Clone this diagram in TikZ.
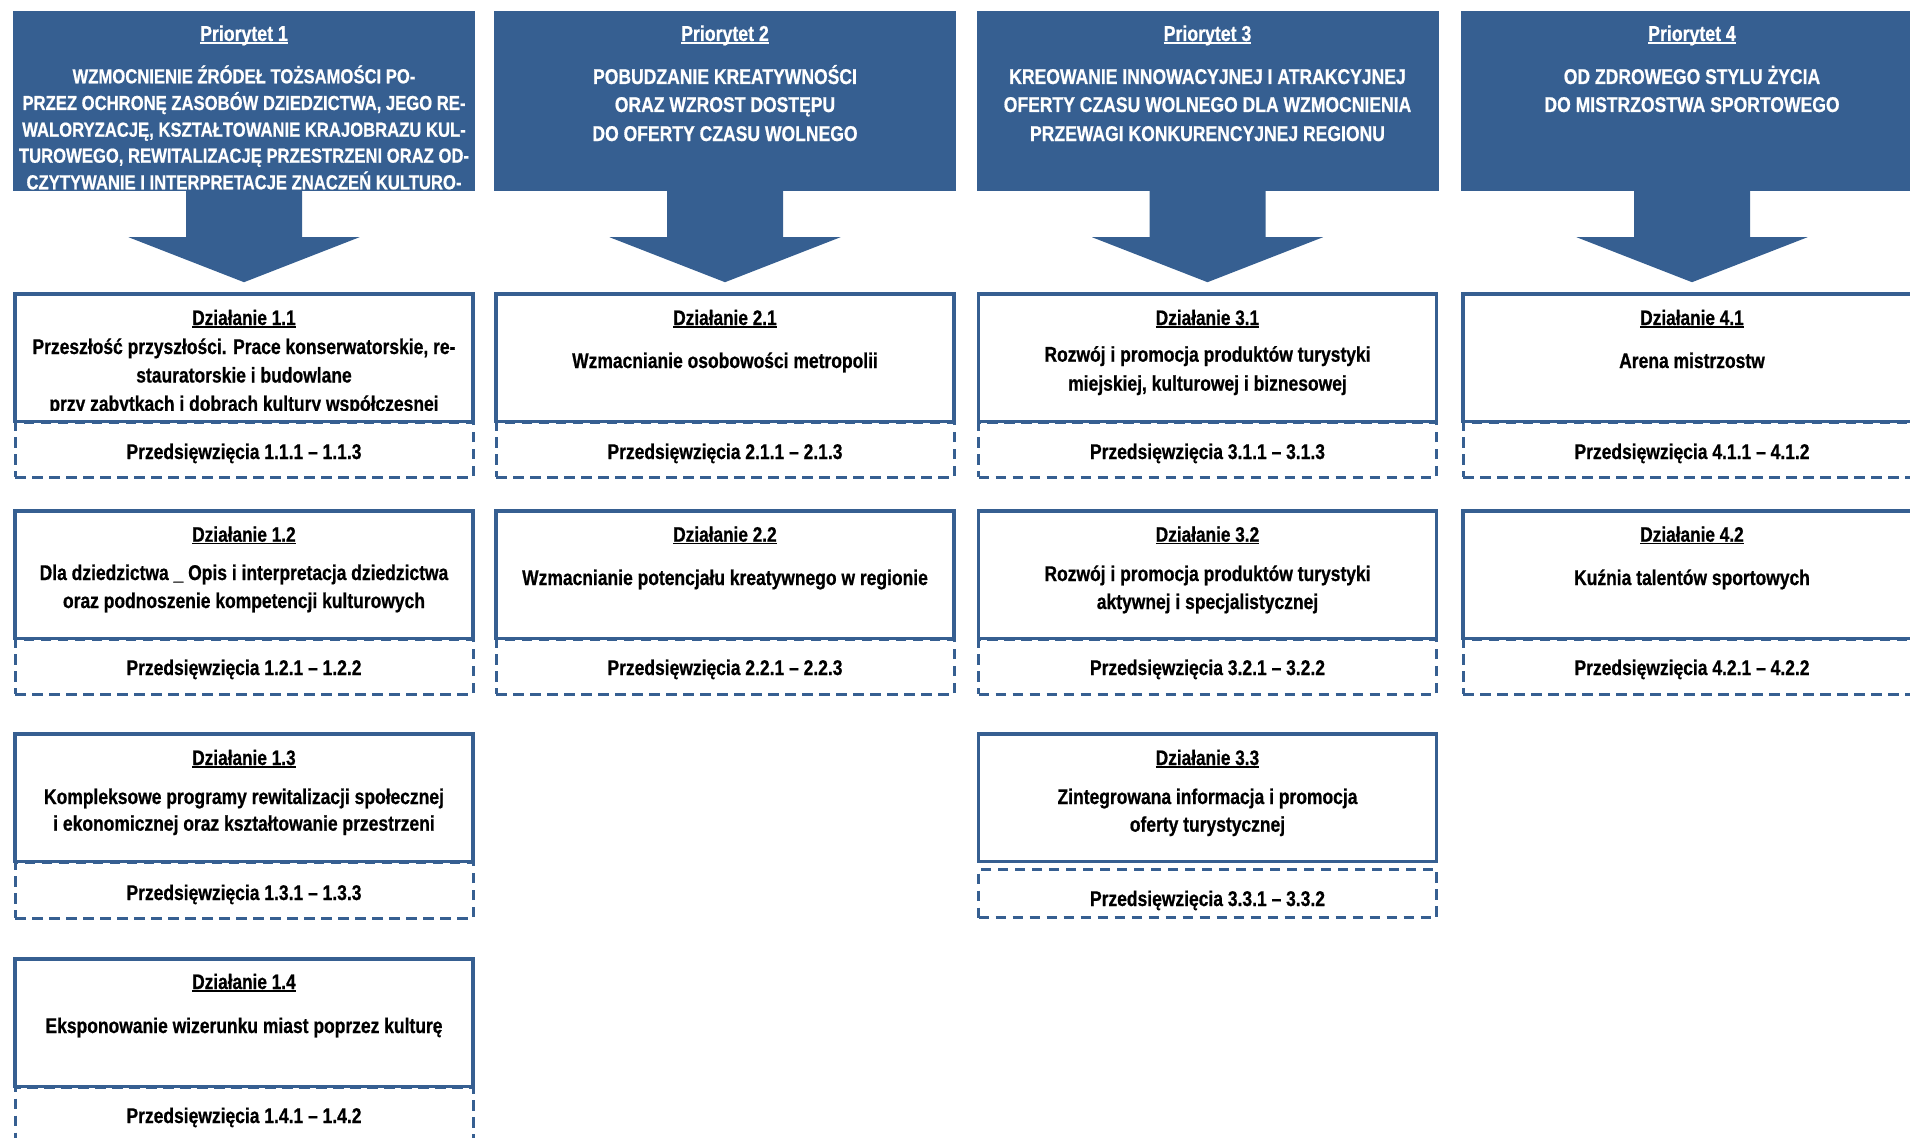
\documentclass[tikz,border=0pt]{standalone}
\usepackage{fontspec}
\setmainfont{Liberation Sans}[FakeStretch=0.82,FakeBold=0.7]
\usetikzlibrary{calc}
\definecolor{pblue}{RGB}{54,95,145}
\newcommand\myul[1]{{\setbox0\hbox{#1}\rlap{\rule[-2.6pt]{\wd0}{1.5pt}}\box0}}
\tikzset{
  prio/.style={fill=pblue, draw=none, inner sep=0, minimum width=462pt, minimum height=180pt},
  solidbox/.style={draw=pblue, line width=3.8pt, inner sep=0, minimum width=458pt, minimum height=127.5pt},
  dashbox/.style={draw=pblue, line width=3pt, dash pattern=on 10.5pt off 6.5pt, inner sep=0, minimum width=458pt},
  txt/.style={anchor=base, inner sep=0, font=\bfseries\fontsize{21.3}{25}\selectfont},
  dtxt/.style={anchor=base, inner sep=0, font=\bfseries\fontsize{21}{25}\selectfont},
  htxt/.style={anchor=base, inner sep=0, text=white, font=\bfseries\fontsize{21.4}{25}\selectfont},
  htxtone/.style={anchor=base, inner sep=0, text=white, font=\bfseries\fontsize{20.3}{25}\selectfont},
  ptxt/.style={anchor=base, inner sep=0, text=white, font=\bfseries\fontsize{21.6}{25}\selectfont},
}
\begin{document}
\begin{tikzpicture}[x=1pt,y=-1pt]
\useasboundingbox (0,0) rectangle (1910,1137);
\clip (0,0) rectangle (1910,1137);

% priority boxes
\node[prio] (p1) at (244,101) {};
\node[prio] (p2) at (725,101) {};
\node[prio] (p3) at (1207.5,101) {};
\node[prio] (p4) at (1692,101) {};
\foreach \p in {p1,p2,p3,p4}{
  \fill[pblue] ($(\p.south)+(-58,-1)$) -- ($(\p.south)+(-58,46)$) -- ($(\p.south)+(-115.5,46)$)
    -- ($(\p.south)+(0,91)$) -- ($(\p.south)+(115.5,46)$) -- ($(\p.south)+(58,46)$)
    -- ($(\p.south)+(58,-1)$) -- cycle;
}

% priority texts
\node[ptxt] (p1t) at (244,41) {\myul{Priorytet 1}};
\node[ptxt] (p2t) at (725,41) {\myul{Priorytet 2}};
\node[ptxt] (p3t) at (1207.5,41) {\myul{Priorytet 3}};
\node[ptxt] (p4t) at (1692,41) {\myul{Priorytet 4}};
\begin{scope}
\clip (13,11) rectangle (475,190.5);
\node[htxtone] (p1a) at (244,83.3) {WZMOCNIENIE ŹRÓDEŁ TOŻSAMOŚCI PO-};
\node[htxtone] (p1b) at (244,110) {PRZEZ OCHRONĘ ZASOBÓW DZIEDZICTWA, JEGO RE-};
\node[htxtone] (p1c) at (244,136.7) {WALORYZACJĘ, KSZTAŁTOWANIE KRAJOBRAZU KUL-};
\node[htxtone] (p1d) at (244,162.7) {TUROWEGO, REWITALIZACJĘ PRZESTRZENI ORAZ OD-};
\node[htxtone] (p1e) at (244,189.3) {CZYTYWANIE I INTERPRETACJE ZNACZEŃ KULTURO-};
\end{scope}
\node[htxt] (p2a) at (725,84) {POBUDZANIE KREATYWNOŚCI};
\node[htxt] (p2b) at (725,112) {ORAZ WZROST DOSTĘPU};
\node[htxt] (p2c) at (725,141) {DO OFERTY CZASU WOLNEGO};
\node[htxt] (p3a) at (1207.5,84) {KREOWANIE INNOWACYJNEJ I ATRAKCYJNEJ};
\node[htxt] (p3b) at (1207.5,112) {OFERTY CZASU WOLNEGO DLA WZMOCNIENIA};
\node[htxt] (p3c) at (1207.5,141) {PRZEWAGI KONKURENCYJNEJ REGIONU};
\node[htxt] (p4a) at (1692,84) {OD ZDROWEGO STYLU ŻYCIA};
\node[htxt] (p4b) at (1692,112) {DO MISTRZOSTWA SPORTOWEGO};

% dashed boxes (projects)
\node[dashbox, minimum height=55pt] (d11) at (244,449.5) {};
\node[dashbox, minimum height=55pt] (d21) at (725,449.5) {};
\node[dashbox, minimum height=55pt] (d31) at (1207.5,449.5) {};
\node[dashbox, minimum height=55pt] (d41) at (1692,449.5) {};
\node[dashbox, minimum height=55pt] (d12) at (244,666.5) {};
\node[dashbox, minimum height=55pt] (d22) at (725,666.5) {};
\node[dashbox, minimum height=55pt] (d32) at (1207.5,666.5) {};
\node[dashbox, minimum height=55pt] (d42) at (1692,666.5) {};
\node[dashbox, minimum height=56pt] (d13) at (244,890) {};
\node[dashbox, minimum height=48.5pt] (d33) at (1207.5,893.25) {};
\node[dashbox, minimum height=58.5pt] (d14) at (244,1116.25) {};

% solid boxes (actions)
\node[solidbox] (a11) at (244,357.75) {};
\node[solidbox] (a21) at (725,357.75) {};
\node[solidbox] (a31) at (1207.5,357.75) {};
\node[solidbox] (a41) at (1692,357.75) {};
\node[solidbox] (a12) at (244,574.75) {};
\node[solidbox] (a22) at (725,574.75) {};
\node[solidbox] (a32) at (1207.5,574.75) {};
\node[solidbox] (a42) at (1692,574.75) {};
\node[solidbox] (a13) at (244,797.75) {};
\node[solidbox] (a33) at (1207.5,797.75) {};
\node[solidbox] (a14) at (244,1022.75) {};

% row 1 texts
\node[dtxt] (t11h) at (244,325) {\myul{Działanie 1.1}};
\node[txt] (t11a) at (244,354) {Przeszłość przyszłości. Prace konserwatorskie, re-};
\node[txt] (t11b) at (244,382.5) {stauratorskie i budowlane};
\begin{scope}
\clip (15,294) rectangle (473,410.5);
\node[txt] (t11c) at (244,411) {przy zabytkach i dobrach kultury współczesnej};
\end{scope}
\node[dtxt] (t21h) at (725,325) {\myul{Działanie 2.1}};
\node[txt] (t21a) at (725,368) {Wzmacnianie osobowości metropolii};
\node[dtxt] (t31h) at (1207.5,325) {\myul{Działanie 3.1}};
\node[txt] (t31a) at (1207.5,361.7) {Rozwój i promocja produktów turystyki};
\node[txt] (t31b) at (1207.5,390.7) {miejskiej, kulturowej i biznesowej};
\node[dtxt] (t41h) at (1692,325) {\myul{Działanie 4.1}};
\node[txt] (t41a) at (1692,368) {Arena mistrzostw};
\node[txt] (s11) at (244,459) {Przedsięwzięcia 1.1.1 – 1.1.3};
\node[txt] (s21) at (725,459) {Przedsięwzięcia 2.1.1 – 2.1.3};
\node[txt] (s31) at (1207.5,459) {Przedsięwzięcia 3.1.1 – 3.1.3};
\node[txt] (s41) at (1692,459) {Przedsięwzięcia 4.1.1 – 4.1.2};

% row 2 texts
\node[dtxt] (t12h) at (244,541.7) {\myul{Działanie 1.2}};
\node[txt] (t12a) at (244,580) {Dla dziedzictwa \_ Opis i interpretacja dziedzictwa};
\node[txt] (t12b) at (244,608) {oraz podnoszenie kompetencji kulturowych};
\node[dtxt] (t22h) at (725,541.7) {\myul{Działanie 2.2}};
\node[txt] (t22a) at (725,585) {Wzmacnianie potencjału kreatywnego w regionie};
\node[dtxt] (t32h) at (1207.5,541.7) {\myul{Działanie 3.2}};
\node[txt] (t32a) at (1207.5,581) {Rozwój i promocja produktów turystyki};
\node[txt] (t32b) at (1207.5,609) {aktywnej i specjalistycznej};
\node[dtxt] (t42h) at (1692,541.7) {\myul{Działanie 4.2}};
\node[txt] (t42a) at (1692,585) {Kuźnia talentów sportowych};
\node[txt] (s12) at (244,675) {Przedsięwzięcia 1.2.1 – 1.2.2};
\node[txt] (s22) at (725,675) {Przedsięwzięcia 2.2.1 – 2.2.3};
\node[txt] (s32) at (1207.5,675) {Przedsięwzięcia 3.2.1 – 3.2.2};
\node[txt] (s42) at (1692,675) {Przedsięwzięcia 4.2.1 – 4.2.2};

% row 3 texts
\node[dtxt] (t13h) at (244,765) {\myul{Działanie 1.3}};
\node[txt] (t13a) at (244,804) {Kompleksowe programy rewitalizacji społecznej};
\node[txt] (t13b) at (244,830.7) {i ekonomicznej oraz kształtowanie przestrzeni};
\node[dtxt] (t33h) at (1207.5,765) {\myul{Działanie 3.3}};
\node[txt] (t33a) at (1207.5,804) {Zintegrowana informacja i promocja};
\node[txt] (t33b) at (1207.5,831.7) {oferty turystycznej};
\node[txt] (s13) at (244,900) {Przedsięwzięcia 1.3.1 – 1.3.3};
\node[txt] (s33) at (1207.5,906) {Przedsięwzięcia 3.3.1 – 3.3.2};

% row 4 texts
\node[dtxt] (t14h) at (244,989) {\myul{Działanie 1.4}};
\node[txt] (t14a) at (244,1033) {Eksponowanie wizerunku miast poprzez kulturę};
\node[txt] (s14) at (244,1123) {Przedsięwzięcia 1.4.1 – 1.4.2};
\end{tikzpicture}
\end{document}
